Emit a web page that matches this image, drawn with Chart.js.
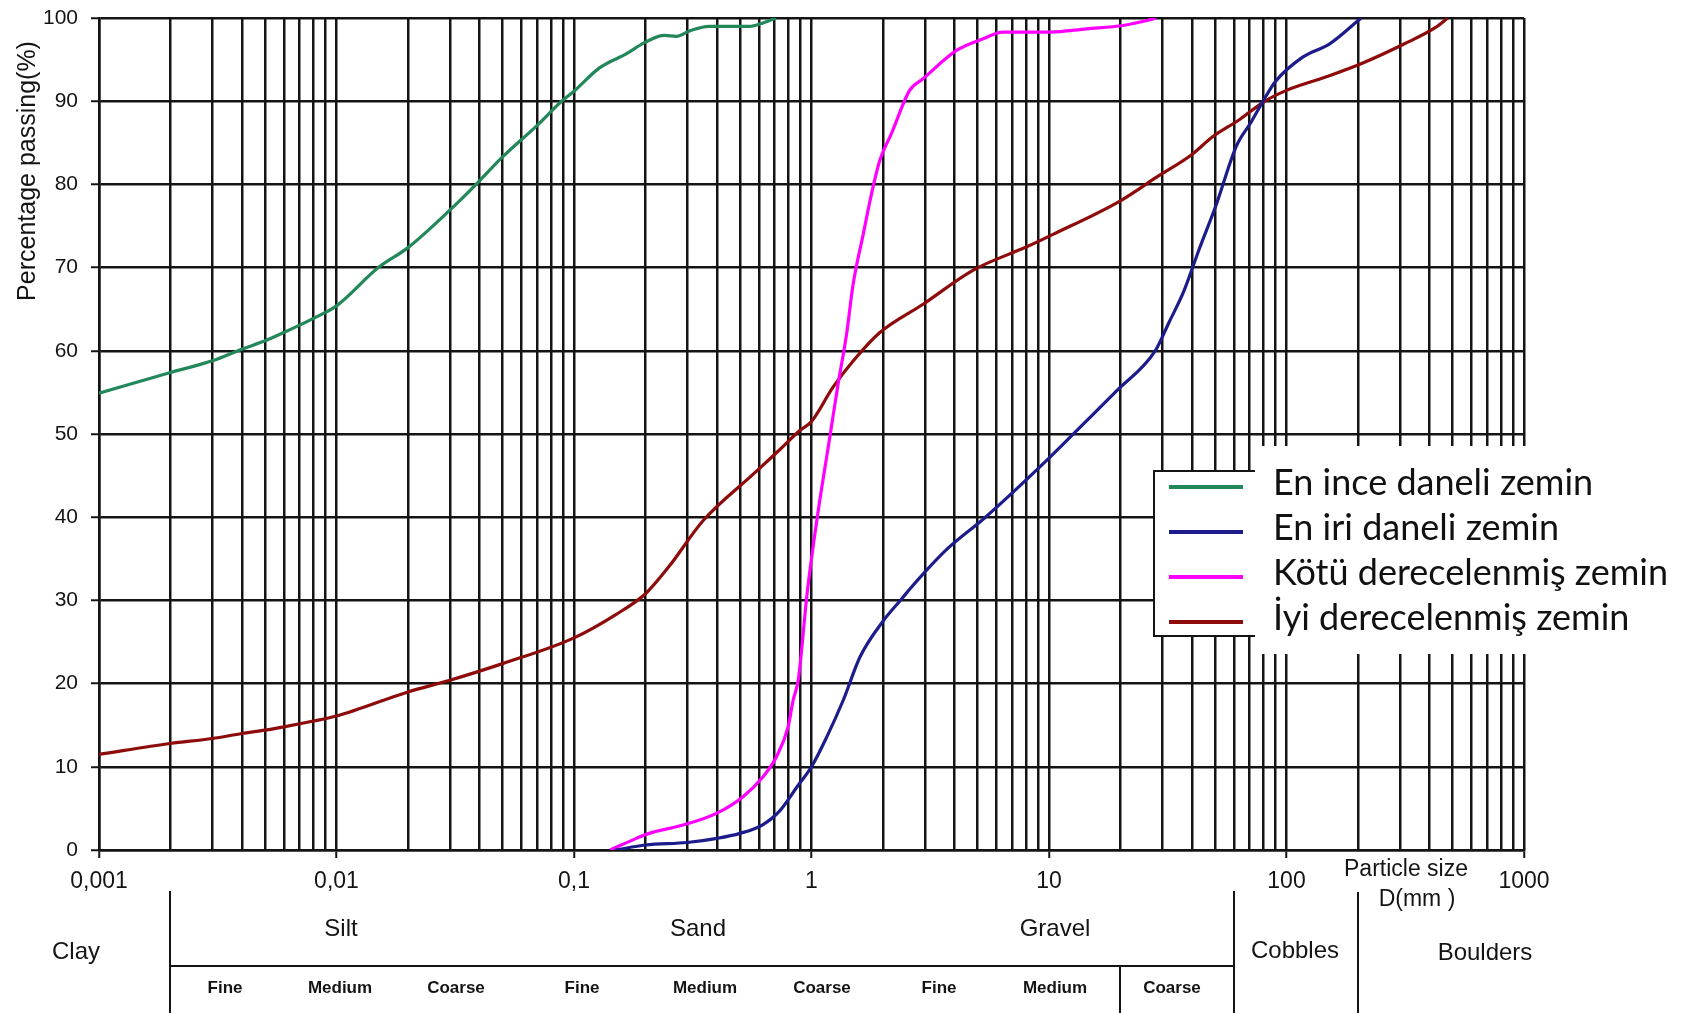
<!DOCTYPE html>
<html>
<head>
<meta charset="utf-8">
<script src="https://cdn.jsdelivr.net/npm/chart.js@4.4.0/dist/chart.umd.min.js"></script>
<style>
html,body{margin:0;padding:0;background:#fff;}
#wrap{width:1688px;height:1013px;position:relative;}
</style>
</head>
<body>
<div id="wrap"><canvas id="c" width="1688" height="1013"></canvas></div>
<script>
// ---------- DATA ----------
const seriesNames = ['En ince daneli zemin', 'En iri daneli zemin', 'Kötü derecelenmiş zemin', 'İyi derecelenmiş zemin'];
const seriesColors = ['#22885a', '#1c1c8c', '#ff00ff', '#8e0b0b'];

const fineSizes = [0.001, 0.002, 0.003, 0.004, 0.005, 0.006, 0.008, 0.01, 0.015, 0.02, 0.03, 0.039, 0.05, 0.07, 0.088, 0.1, 0.128, 0.166, 0.2, 0.24, 0.27, 0.31, 0.37, 0.55, 0.61, 0.71];
const finePct   = [54.9, 57.4, 58.8, 60.2, 61.2, 62.2, 63.9, 65.4, 70.0, 72.4, 76.9, 80.1, 83.3, 87.1, 89.9, 91.2, 94.0, 95.7, 97.1, 97.9, 97.8, 98.5, 99.0, 99.0, 99.3, 100];

const coarseSizes = [0.15, 0.2, 0.3, 0.4, 0.5, 0.62, 0.74, 0.87, 1.0, 1.16, 1.36, 1.6, 2.0, 2.4, 2.6, 3.0, 3.7, 5.4, 10, 13.5, 19.3, 28, 32, 37, 43, 50.5, 61.5, 71, 80, 90, 117, 152, 206];
const coarsePct   = [0, 0.6, 0.9, 1.4, 2.0, 3.0, 4.8, 7.6, 10.0, 13.6, 18.0, 23.2, 27.5, 30.2, 31.4, 33.4, 36.1, 40.0, 47.1, 50.8, 55.2, 60.0, 63.4, 67.2, 72.3, 77.5, 84.6, 87.5, 90.1, 92.4, 95.3, 96.9, 100];

const poorSizes = [0.142, 0.183, 0.207, 0.288, 0.398, 0.515, 0.625, 0.712, 0.797, 0.837, 0.88, 0.96, 1.064, 1.2, 1.294, 1.405, 1.497, 1.651, 1.79, 1.94, 2.17, 2.59, 2.95, 4.08, 5.28, 6.41, 10.1, 14.4, 20.5, 25.8, 28.3];
const poorPct   = [0, 1.4, 2.0, 3.0, 4.4, 6.4, 8.8, 11.2, 14.8, 18.0, 20.5, 31.0, 40.5, 50.0, 56.0, 62.0, 68.0, 74.0, 78.9, 82.9, 86.1, 91.3, 92.7, 96.1, 97.5, 98.3, 98.3, 98.7, 99.1, 99.7, 100];

const wellSizes = [0.001, 0.002, 0.003, 0.004, 0.005, 0.006, 0.008, 0.01, 0.02, 0.03, 0.05, 0.1, 0.15, 0.2, 0.25, 0.35, 0.57, 0.74, 0.89, 1.0, 1.23, 1.5, 1.94, 2.95, 4.8, 8.05, 10.4, 19.9, 28.5, 40, 48.7, 63.5, 80, 100, 146, 206, 314, 426, 477];
const wellPct   = [11.5, 12.8, 13.4, 14.0, 14.4, 14.8, 15.5, 16.1, 19.0, 20.4, 22.4, 25.5, 28.3, 30.8, 34.0, 39.6, 45.2, 48.2, 50.4, 51.5, 55.6, 58.8, 62.2, 65.6, 69.7, 72.5, 74.0, 78.0, 80.9, 83.6, 85.7, 87.8, 89.9, 91.3, 92.9, 94.5, 96.9, 98.9, 100];

const xTickValues = [0.001, 0.01, 0.1, 1, 10, 100, 1000];
const xTickLabels = ['0,001', '0,01', '0,1', '1', '10', '100', '1000'];
const yTickStep = 10;

const zoneBounds = [0.002, 20, 60, 200]; // clay/silt, gravel medium/coarse, gravel/cobbles, cobbles/boulders
const mainZones = ['Clay', 'Silt', 'Sand', 'Gravel', 'Cobbles', 'Boulders'];
const subZones = ['Fine', 'Medium', 'Coarse', 'Fine', 'Medium', 'Coarse', 'Fine', 'Medium', 'Coarse'];

// ---------- CHART ----------
const pts = (xs, ys) => xs.map((x, i) => ({x: x, y: ys[i]}));
const allData = [pts(fineSizes, finePct), pts(coarseSizes, coarsePct), pts(poorSizes, poorPct), pts(wellSizes, wellPct)];

const isDecade = v => Math.abs(Math.log10(v) - Math.round(Math.log10(v))) < 1e-9;
const labelFor = v => {
  for (let i = 0; i < xTickValues.length; i++) {
    if (Math.abs(Math.log10(v) - Math.log10(xTickValues[i])) < 1e-9) return xTickLabels[i];
  }
  return '';
};

const FONT = '"Liberation Sans", Arial, sans-serif';
const INK = '#141414';
const GRIDW = 2.5;

const overlay = {
  id: 'overlay',
  afterDraw(chart) {
    const ctx = chart.ctx;
    const xs = chart.scales.x;
    const px = v => Math.round(xs.getPixelForValue(v));
    const line = (x1, y1, x2, y2) => { ctx.beginPath(); ctx.moveTo(x1, y1); ctx.lineTo(x2, y2); ctx.stroke(); };
    ctx.save();
    ctx.strokeStyle = INK;
    ctx.lineWidth = 2;
    // classification table
    line(px(zoneBounds[0]), 891, px(zoneBounds[0]), 1013);
    line(px(zoneBounds[0]), 966, px(zoneBounds[2]), 966);
    line(px(zoneBounds[2]), 891, px(zoneBounds[2]), 1013);
    line(px(zoneBounds[3]), 892, px(zoneBounds[3]), 1013);
    line(px(zoneBounds[1]), 966, px(zoneBounds[1]), 1013);

    ctx.fillStyle = INK;
    ctx.textAlign = 'center';
    ctx.textBaseline = 'middle';
    ctx.font = '24px ' + FONT;
    const mainPos = [[76, 952], [341, 929], [698, 929], [1055, 929], [1295, 951], [1485, 953]];
    mainZones.forEach((t, i) => ctx.fillText(t, mainPos[i][0], mainPos[i][1]));
    ctx.font = 'bold 17px ' + FONT;
    const subX = [225, 340, 456, 582, 705, 822, 939, 1055, 1172];
    subZones.forEach((t, i) => ctx.fillText(t, subX[i], 988));
    ctx.font = '23px ' + FONT;
    ctx.fillText('Particle size', 1406, 870);
    ctx.fillText('D(mm )', 1417, 900);

    // y axis title
    ctx.save();
    ctx.translate(28, 171);
    ctx.rotate(-Math.PI / 2);
    ctx.font = '25px ' + FONT;
    ctx.fillText('Percentage passing(%)', 0, 0);
    ctx.restore();

    // legend
    ctx.fillStyle = '#fff';
    ctx.fillRect(1154, 471, 104, 165);
    ctx.strokeStyle = INK;
    ctx.lineWidth = 2;
    ctx.strokeRect(1154, 471, 104, 165);
    ctx.fillRect(1255, 446, 1688 - 1255, 654 - 446);
    const baselines = [495, 540, 585, 630];
    seriesNames.forEach((name, i) => {
      ctx.strokeStyle = seriesColors[i];
      ctx.lineWidth = 4;
      line(1169, baselines[i] - 8, 1243, baselines[i] - 8);
      ctx.fillStyle = '#111';
      ctx.textAlign = 'left';
      ctx.textBaseline = 'alphabetic';
      ctx.font = '36px Lato, "Open Sans", sans-serif';
      ctx.fillText(name, 1273, baselines[i]);
    });
    ctx.restore();
  }
};

new Chart(document.getElementById('c'), {
  type: 'scatter',
  data: {
    datasets: allData.map((d, i) => ({
      label: seriesNames[i],
      data: d,
      showLine: true,
      borderColor: seriesColors[i],
      backgroundColor: seriesColors[i],
      borderWidth: 3.2,
      pointRadius: 0,
      pointHoverRadius: 0,
      cubicInterpolationMode: 'monotone'
    }))
  },
  options: {
    responsive: false,
    animation: false,
    events: [],
    layout: { padding: { left: 0, right: 164, top: 18, bottom: 0 } },
    plugins: { legend: { display: false }, tooltip: { enabled: false }, title: { display: false } },
    scales: {
      x: {
        type: 'logarithmic',
        min: 0.001,
        max: 1000,
        afterFit(scale) { scale.height = 163; scale.paddingLeft = 0; scale.paddingRight = 0; },
        afterBuildTicks(scale) {
          const t = [];
          for (let e = -3; e <= 2; e++) {
            for (let m = 1; m <= 9; m++) {
              const v = Number((m * Math.pow(10, e)).toPrecision(6));
              t.push({ value: v, major: m === 1 });
            }
          }
          t.push({ value: 1000, major: true });
          scale.ticks = t;
        },
        border: { display: true, color: INK, width: GRIDW },
        grid: {
          color: INK,
          lineWidth: GRIDW,
          drawTicks: true,
          tickLength: 8,
          tickColor: ctx => (ctx.tick && isDecade(ctx.tick.value)) ? INK : 'rgba(0,0,0,0)',
          tickWidth: 2
        },
        ticks: {
          autoSkip: false,
          maxRotation: 0,
          minRotation: 0,
          padding: 10,
          color: INK,
          font: { family: FONT, size: 23 },
          callback: v => labelFor(v)
        }
      },
      y: {
        type: 'linear',
        min: 0,
        max: 100,
        afterFit(scale) { scale.width = 99; scale.paddingTop = 0; scale.paddingBottom = 0; },
        border: { display: true, color: INK, width: GRIDW },
        grid: { color: INK, lineWidth: GRIDW, tickLength: 8, tickColor: INK, tickWidth: 2 },
        ticks: {
          stepSize: yTickStep,
          padding: 13,
          color: INK,
          font: { family: FONT, size: 21 }
        }
      }
    }
  },
  plugins: [overlay]
});
</script>
</body>
</html>
